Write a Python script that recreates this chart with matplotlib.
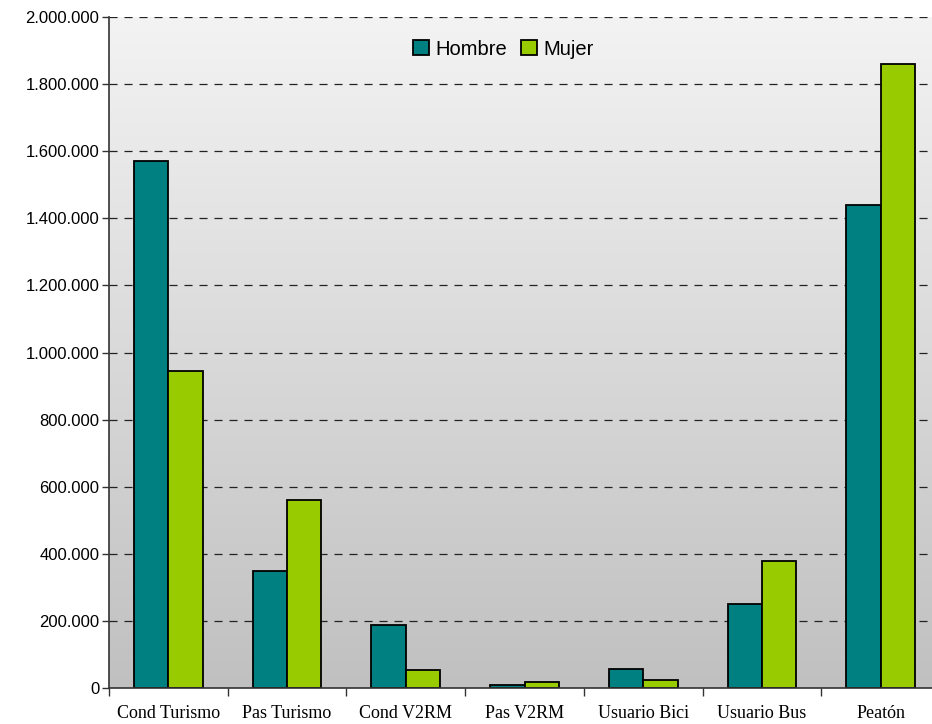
import numpy as np
from matplotlib import pyplot as plt
from matplotlib.colors import LinearSegmentedColormap
from matplotlib.ticker import FuncFormatter, MultipleLocator

categorias = ['Cond Turismo', 'Pas Turismo', 'Cond V2RM', 'Pas V2RM',
              'Usuario Bici', 'Usuario Bus', 'Peatón']
hombre = [1570000, 350000, 188000, 9000, 57000, 250000, 1440000]
mujer = [945000, 560000, 54000, 18000, 24000, 380000, 1860000]

plt.rcParams['lines.scale_dashes'] = False

fig = plt.figure(figsize=(9.32, 7.24), dpi=100)
ax = fig.add_axes([109/932, 36/724, 831/932, 671/724])

n = len(categorias)
x = np.arange(n)
w = 0.29

ax.set_xlim(-0.5, n - 0.5)
ax.set_ylim(0, 2000000)

# degradado de fondo del area de trazado
fondo = LinearSegmentedColormap.from_list('fondo', ['#c0c0c0', '#f3f3f3'])
ax.imshow(np.linspace(0, 1, 256).reshape(-1, 1), cmap=fondo, origin='lower',
          extent=[-0.5, n - 0.5, 0, 2000000], aspect='auto', zorder=0)

for y in range(200000, 2000001, 200000):
    ax.axhline(y, color='#222222', lw=0.9, ls=(0, (5.8, 5.0)), zorder=1)

ax.bar(x - w/2, hombre, w, color='#008080', edgecolor='black', lw=1.3,
       label='Hombre', zorder=2)
ax.bar(x + w/2, mujer, w, color='#99cc00', edgecolor='black', lw=1.3,
       label='Mujer', zorder=2)

ax.yaxis.set_major_locator(MultipleLocator(200000))
ax.yaxis.set_major_formatter(FuncFormatter(lambda v, p: f'{int(v):,}'.replace(',', '.')))
ax.set_xticks(np.arange(-0.5, n, 1.0))
ax.set_xticklabels([])
ax.set_xticks(x, minor=True)
ax.set_xticklabels(categorias, minor=True, family='Liberation Serif', fontsize=13)
ax.tick_params(axis='x', which='minor', length=0, pad=12)
ax.tick_params(axis='x', which='major', length=6, width=1, color='#333333')
ax.tick_params(axis='y', length=5, width=1, color='#333333', labelsize=12, pad=2)
for lbl in ax.get_yticklabels():
    lbl.set_family('Liberation Sans')

for s in ['top', 'right']:
    ax.spines[s].set_visible(False)
ax.spines['left'].set_color('#333333')
ax.spines['bottom'].set_color('#333333')
ax.spines['left'].set_linewidth(1.2)
ax.spines['bottom'].set_linewidth(1.2)

ax.legend(loc='center', bbox_to_anchor=(0.475, 0.952), ncol=2, frameon=False,
          prop={'family': 'Liberation Sans', 'size': 14.5}, handlelength=0.75,
          handleheight=0.75, handletextpad=0.35, columnspacing=0.7,
          borderpad=0.2)

fig.savefig('out.png', dpi=100)
